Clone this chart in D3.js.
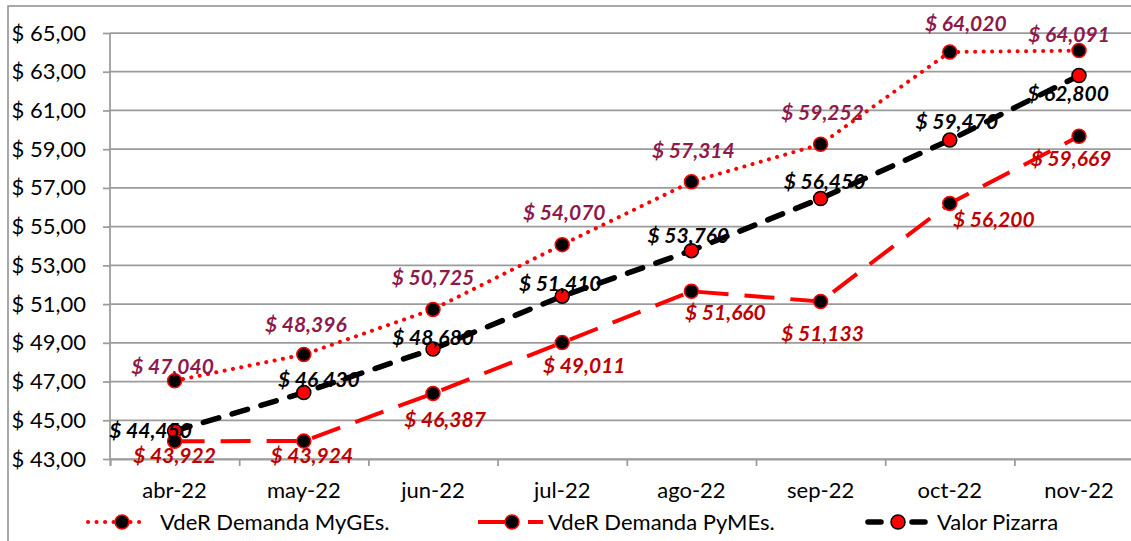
<!DOCTYPE html>
<html>
<head>
<meta charset="utf-8">
<script src="https://cdn.jsdelivr.net/npm/d3@7"></script>
<style>
  html, body { margin: 0; padding: 0; background: #fff; }
  svg { display: block; font-family: Lato, "Open Sans", sans-serif; }
</style>
</head>
<body>
<div id="chart"></div>
<script>
// months and values (in $ per unit, comma decimals in labels)
const months = ["abr-22", "may-22", "jun-22", "jul-22", "ago-22", "sep-22", "oct-22", "nov-22"]
const mygesValues = [47.040, 48.396, 50.725, 54.070, 57.314, 59.252, 64.020, 64.091]
const pymesValues = [43.922, 43.924, 46.387, 49.011, 51.660, 51.133, 56.200, 59.669]
const pizarraValues = [44.450, 46.430, 48.680, 51.410, 53.760, 56.450, 59.470, 62.800]
const yTickValues = [43, 45, 47, 49, 51, 53, 55, 57, 59, 61, 63, 65]
const seriesNames = ["VdeR Demanda MyGEs.", "VdeR Demanda PyMEs.", "Valor Pizarra"]

// label nudges (dx, dy) relative to each marker, as placed in the original
const mygesNudge = [[-2, -7], [2, -23], [0, -24], [2, -25], [2, -24], [2, -24], [16, -21], [-10, -9]]
const pymesNudge = [[0, 22], [8, 22], [12, 34], [22, 30], [34, 29], [2, 39], [44, 24], [-8, 30]]
const pizarraNudge = [[-24, 7], [15, -6], [0, -4], [-2, -5], [-3, -8], [4, -10], [7, -11], [-11, 25]]

const W = 1131, H = 541
const margin = { left: 110, top: 33 }
const plotRight = 1143.6, plotBottom = 459

const svg = d3.select("#chart").append("svg")
    .attr("width", W)
    .attr("height", H)

// outer chart frame (only the left and top edges fall inside the picture)
svg.append("path")
    .attr("d", `M8,${H + 5}V6H${W + 5}`)
    .attr("fill", "none")
    .attr("stroke", "#8c8c8c")
    .attr("stroke-width", 1.5)

const x = d3.scaleBand()
    .domain(months)
    .range([margin.left, plotRight])
    .padding(0)
const cx = m => x(m) + x.bandwidth() / 2

const y = d3.scaleLinear()
    .domain([43, 65])
    .range([plotBottom, margin.top])

const fmtAxis = d => "$ " + d.toFixed(2).replace(".", ",")
const fmtLabel = d => "$ " + d.toFixed(3).replace(".", ",")

// gridlines
svg.append("g")
    .selectAll("line")
    .data(yTickValues)
    .enter().append("line")
    .attr("x1", margin.left)
    .attr("x2", plotRight)
    .attr("y1", d => y(d))
    .attr("y2", d => y(d))
    .attr("stroke", "#9b9b9b")
    .attr("stroke-width", 1.75)

// y axis
const yAxis = svg.append("g")
    .attr("transform", `translate(${margin.left},0)`)
    .call(d3.axisLeft(y)
        .tickValues(yTickValues)
        .tickSize(7)
        .tickPadding(17)
        .tickFormat(fmtAxis))
yAxis.selectAll("path.domain").attr("stroke", "#9b9b9b").attr("stroke-width", 1.75)
    .attr("d", `M0,${plotBottom}V${margin.top}`)
yAxis.selectAll(".tick line").attr("stroke", "#9b9b9b").attr("stroke-width", 1.75)
yAxis.selectAll("text").attr("font-size", 22).attr("fill", "#000").attr("font-family", "Lato, sans-serif")

// x axis: tick marks at category edges, labels at centres
const xEdge = d3.scaleLinear().domain([0, months.length]).range([margin.left, plotRight])
const xTicks = svg.append("g")
    .attr("transform", `translate(0,${plotBottom})`)
    .call(d3.axisBottom(xEdge).ticks(months.length).tickSize(7).tickFormat(""))
xTicks.selectAll("path.domain").attr("stroke", "#9b9b9b").attr("stroke-width", 1.75)
xTicks.selectAll(".tick line").attr("stroke", "#9b9b9b").attr("stroke-width", 1.75)

const xAxis = svg.append("g")
    .attr("transform", `translate(0,${plotBottom})`)
    .call(d3.axisBottom(x).tickSize(0).tickPadding(23))
xAxis.select("path.domain").remove()
xAxis.selectAll("text").attr("font-size", 22).attr("fill", "#000").attr("font-family", "Lato, sans-serif")

const series = [
    { name: seriesNames[2], values: pizarraValues, nudge: pizarraNudge,
      stroke: "#000", width: 5.5, dash: "16 14", cap: "round",
      markerFill: "#ff0000", markerStroke: "#000", labelColor: "#000" },
    { name: seriesNames[0], values: mygesValues, nudge: mygesNudge,
      stroke: "#ff0000", width: 4, dash: "0.1 8.4", cap: "round",
      markerFill: "#000", markerStroke: "#ff0000", labelColor: "#8e1a4b" },
    { name: seriesNames[1], values: pymesValues, nudge: pymesNudge,
      stroke: "#ff0000", width: 4, dash: "30 16", cap: "butt",
      markerFill: "#000", markerStroke: "#ff0000", labelColor: "#c00000" }
]

const line = d3.line()
    .x((d, i) => cx(months[i]))
    .y(d => y(d))

series.forEach(s => {
    svg.append("path")
        .datum(s.values)
        .attr("d", line)
        .attr("fill", "none")
        .attr("stroke", s.stroke)
        .attr("stroke-width", s.width)
        .attr("stroke-dasharray", s.dash)
        .attr("stroke-linecap", s.cap)

    svg.append("g")
        .selectAll("circle")
        .data(s.values)
        .enter().append("circle")
        .attr("cx", (d, i) => cx(months[i]))
        .attr("cy", d => y(d))
        .attr("r", 7)
        .attr("fill", s.markerFill)
        .attr("stroke", s.markerStroke)
        .attr("stroke-width", 1.5)
})

// data labels on top
series.forEach(s => {
    svg.append("g")
        .selectAll("text")
        .data(s.values)
        .enter().append("text")
        .attr("x", (d, i) => cx(months[i]) + s.nudge[i][0])
        .attr("y", (d, i) => y(d) + s.nudge[i][1])
        .attr("text-anchor", "middle")
        .attr("font-size", 21)
        .attr("font-weight", 700)
        .attr("font-style", "italic")
        .attr("fill", s.labelColor)
        .text(fmtLabel)
})

// legend (Excel draws a short sample of each line around the marker)
const legendOrder = [series[1], series[2], series[0]]
const legendPos = [
    { x0: 88, x1: 145, mx: 122, tx: 160, dash: "0.1 8.4" },
    { x0: 478, x1: 543, mx: 512, tx: 548, dash: "38 12 20" },
    { x0: 868, x1: 925, mx: 898, tx: 937, dash: "13 31 13" }
]
const legendY = 522

legendOrder.forEach((s, i) => {
    const p = legendPos[i]
    const g = svg.append("g")
    g.append("line")
        .attr("x1", p.x0).attr("x2", p.x1)
        .attr("y1", legendY).attr("y2", legendY)
        .attr("stroke", s.stroke)
        .attr("stroke-width", s.width)
        .attr("stroke-dasharray", p.dash)
        .attr("stroke-linecap", s.cap)
    g.append("circle")
        .attr("cx", p.mx).attr("cy", legendY)
        .attr("r", 7)
        .attr("fill", s.markerFill)
        .attr("stroke", s.markerStroke)
        .attr("stroke-width", 1.5)
    g.append("text")
        .attr("x", p.tx).attr("y", legendY)
        .attr("dy", "0.36em")
        .attr("font-size", 22)
        .text(s.name)
})
</script>
</body>
</html>
